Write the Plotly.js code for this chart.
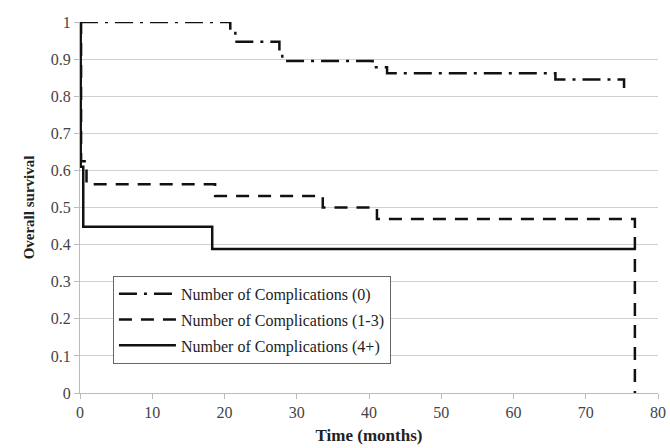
<!DOCTYPE html>
<html>
<head>
<meta charset="utf-8">
<script src="https://cdn.plot.ly/plotly-3.0.1.min.js"></script>
<style>html,body{margin:0;padding:0;background:#fff;}#chart{width:670px;height:448px;}</style>
</head>
<body>
<div id="chart"></div>
<script>
// Time (months) and overall survival step values
const seriesNames = ["Number of Complications (0)", "Number of Complications (1-3)", "Number of Complications (4+)"];
const time0 = [0, 20.8, 21.5, 27.6, 28.0, 40.5, 42.5, 65.8, 75.3];
const surv0 = [1, 0.974, 0.947, 0.921, 0.895, 0.878, 0.862, 0.845, 0.822];
const time13 = [0, 0.15, 0.9, 18.7, 33.6, 41.1, 76.8];
const surv13 = [1, 0.625, 0.5625, 0.53125, 0.5, 0.46875, 0];
const time4 = [0, 0.1, 0.45, 18.3, 76.9];
const surv4 = [1, 0.61, 0.448, 0.388, 0.388];
const xTicks = [0, 10, 20, 30, 40, 50, 60, 70, 80];
const yTicks = [0, 0.1, 0.2, 0.3, 0.4, 0.5, 0.6, 0.7, 0.8, 0.9, 1];

const font = "Liberation Serif, Times New Roman, serif";
const traces = [
  {x: time0, y: surv0, name: seriesNames[0], legendgroup: "g0", mode: "lines",
   line: {shape: "hv", color: "#111", width: 2.5, dash: "18px,7px,3px,7px"}},
  {x: time13, y: surv13, name: seriesNames[1], legendgroup: "g1", mode: "lines",
   line: {shape: "hv", color: "#111", width: 2.5, dash: "13px,9px"}},
  {x: time4, y: surv4, name: seriesNames[2], legendgroup: "g2", mode: "lines",
   line: {shape: "hv", color: "#111", width: 2.5}}
];
const layout = {
  width: 670, height: 448,
  margin: {l: 80, r: 12, t: 22, b: 55},
  paper_bgcolor: "#fff", plot_bgcolor: "#fff",
  font: {family: font, size: 14, color: "#222"},
  showlegend: true,
  legend: {x: 0.057, y: 0.316, xanchor: "left", yanchor: "top",
    bgcolor: "#fff", bordercolor: "#666", borderwidth: 1,
    font: {family: font, size: 16, color: "#222"},
    itemwidth: 57,
    traceorder: "grouped", tracegroupgap: 2},
  xaxis: {range: [0, 80], tickvals: xTicks, ticktext: xTicks.map(String),
    showgrid: false, zeroline: false, showline: true, linecolor: "#bbb", linewidth: 1,
    ticks: "outside", ticklen: 5, tickcolor: "#bbb",
    tickfont: {family: font, size: 16, color: "#444"},
    title: {text: "<b>Time (months)</b>", font: {family: font, size: 17, color: "#222"}, standoff: 8}},
  yaxis: {range: [0, 1], tickvals: yTicks, ticktext: yTicks.map(String),
    showgrid: true, gridcolor: "#cfcfcf", gridwidth: 1, zeroline: false,
    showline: true, linecolor: "#bbb", linewidth: 1,
    ticks: "outside", ticklen: 5, tickcolor: "#bbb",
    tickfont: {family: font, size: 16, color: "#444"},
    title: {text: "<b>Overall survival</b>", font: {family: font, size: 15, color: "#222"}, standoff: 12}}
};
Plotly.newPlot("chart", traces, layout, {displayModeBar: false, staticPlot: true});
</script>
</body>
</html>
